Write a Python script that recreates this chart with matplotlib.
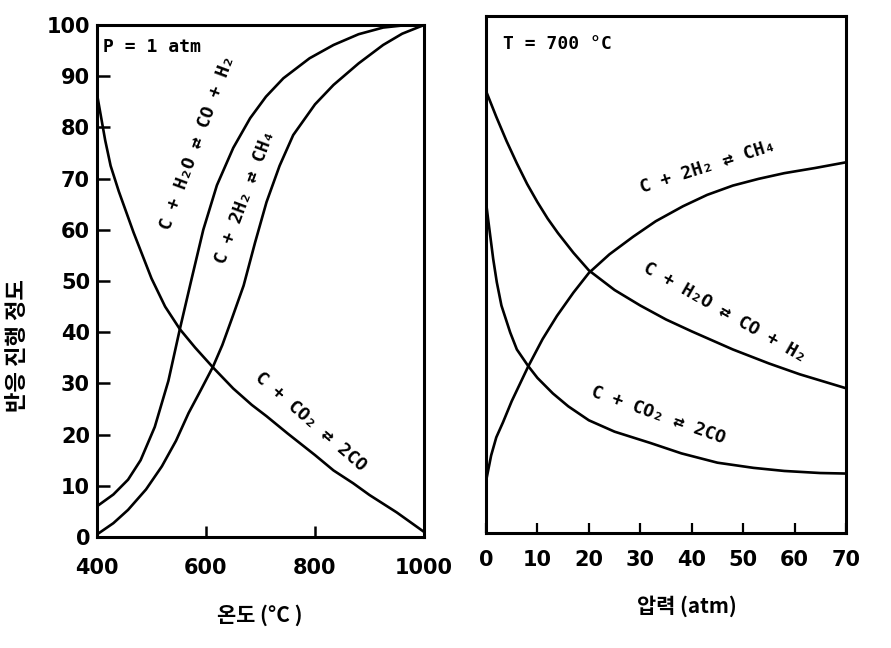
import matplotlib
matplotlib.use("Agg")
import matplotlib.pyplot as plt

# ---------------- data ----------------
# Left panel: temperature (°C) at P = 1 atm
co2_T = [400, 405, 415, 425, 440, 467, 500, 525, 552, 580, 613, 650, 684, 711, 750, 800, 834, 870, 900, 950, 1000]
co2_y = [86.5, 83.5, 77.5, 72.5, 67.5, 59.5, 50.5, 45, 40.6, 37, 33.1, 29, 25.8, 23.6, 20.2, 16, 13, 10.5, 8.2, 4.8, 1]

h2o_T = [400, 430, 457, 480, 506, 531, 552, 572, 595, 620, 650, 681, 710, 742, 790, 834, 880, 925, 960, 1000]
h2o_y = [6, 8.3, 11.2, 15, 21.5, 30.5, 40.6, 49.7, 60, 68.7, 76, 81.8, 86, 89.6, 93.5, 96.1, 98.2, 99.5, 99.9, 100]

ch4_T = [400, 430, 457, 490, 519, 545, 568, 590, 613, 630, 647, 669, 690, 711, 735, 760, 800, 834, 880, 925, 960, 1000]
ch4_y = [0.5, 2.7, 5.3, 9.3, 13.8, 18.8, 24.2, 28.6, 33.3, 37.5, 42.5, 49.1, 57.5, 65.4, 72.5, 78.5, 84.5, 88.3, 92.5, 96.1, 98.3, 100]

# Right panel: pressure (atm) at T = 700 °C
h2o_P = [0, 2, 4, 6, 8, 10, 12, 14, 17, 20, 25, 30, 35, 40, 48, 55, 61, 70]
h2o_Py = [85.5, 80.5, 75.8, 71.5, 67.5, 64, 60.8, 58, 54.2, 50.8, 47, 44, 41.3, 39, 35.5, 32.8, 30.7, 28]

ch4_P = [0, 1, 2, 3.3, 5, 8.2, 11, 13.8, 17, 20, 24, 28.6, 33, 38.3, 43, 48, 53, 58, 64, 70]
ch4_Py = [10, 15, 18.5, 21.4, 25.5, 32.2, 37.5, 42, 46.5, 50.3, 53.9, 57.3, 60.3, 63.2, 65.4, 67.2, 68.5, 69.6, 70.6, 71.7]

co2_P = [0, 0.5, 1.4, 2.1, 3, 4.7, 6, 8.2, 10, 13, 16, 20, 25, 32, 38, 45, 52, 58, 65, 70]
co2_Py = [64, 60, 53, 48.5, 44, 38.8, 35.5, 32.3, 30, 27, 24.5, 21.8, 19.6, 17.4, 15.4, 13.6, 12.6, 12, 11.6, 11.5]

left_xticks = [400, 600, 800, 1000]
left_yticks = [0, 10, 20, 30, 40, 50, 60, 70, 80, 90, 100]
right_xticks = [0, 10, 20, 30, 40, 50, 60, 70]

lbl_h2o = "C + H\u2082O \u21c4 CO + H\u2082"
lbl_ch4 = "C + 2H\u2082 \u21c4 CH\u2084"
lbl_co2 = "C + CO\u2082 \u21c4 2CO"

# ---------------- style ----------------
plt.rcParams['font.family'] = ['DejaVu Sans', 'Noto Sans CJK KR']
KR = ['Noto Sans CJK KR', 'DejaVu Sans']
MONO = ['DejaVu Sans Mono', 'DejaVu Sans']
LW = 1.9
SPW = 2.2

fig = plt.figure(figsize=(8.91, 6.48), dpi=100)
axL = fig.add_axes([97/891, 1-537/648, 327/891, 512/648])
axR = fig.add_axes([486/891, 1-533/648, 360/891, 517/648])

for ax in (axL, axR):
    for s in ax.spines.values():
        s.set_linewidth(SPW)
        s.set_color('black')
    ax.set_ylim(0, 100)

# Left panel
axL.plot(co2_T, co2_y, color='black', lw=LW)
axL.plot(h2o_T, h2o_y, color='black', lw=LW)
axL.plot(ch4_T, ch4_y, color='black', lw=LW)
axL.set_xlim(400, 1000)
axL.set_xticks(left_xticks)
axL.set_yticks(left_yticks)
axL.tick_params(axis='x', direction='in', length=8, width=1.8, pad=15,
                labelsize=15)
axL.tick_params(axis='y', direction='in', length=9, width=1.8, pad=5,
                labelsize=15)
for t in axL.get_xticklabels() + axL.get_yticklabels():
    t.set_fontweight('bold')

axL.text(411, 95.7, "P = 1 atm", family=MONO, weight='bold', fontsize=13,
         ha='left', va='center')
axL.text(585, 77, lbl_h2o, family=MONO, weight='bold', fontsize=13,
         rotation=69.6, ha='center', va='center', rotation_mode='anchor')
axL.text(672, 66.4, lbl_ch4, family=MONO, weight='bold', fontsize=13,
         rotation=69.4, ha='center', va='center', rotation_mode='anchor')
axL.text(793, 22.6, lbl_co2, family=MONO, weight='bold', fontsize=13,
         rotation=-41, ha='center', va='center', rotation_mode='anchor')

axL.set_xlabel("온도 (°C )", family=KR, weight='bold', fontsize=15, va='center')
axL.xaxis.set_label_coords(0.498, -0.152)
axL.set_ylabel("반응 진행 정도", family=KR, weight='bold', fontsize=16, va='center')
axL.yaxis.set_label_coords(-0.242, 0.375)

# Right panel
axR.plot(h2o_P, h2o_Py, color='black', lw=LW)
axR.plot(ch4_P, ch4_Py, color='black', lw=LW)
axR.plot(co2_P, co2_Py, color='black', lw=LW)
axR.set_xlim(0, 70)
axR.set_xticks(right_xticks)
axR.set_yticks([])
axR.tick_params(axis='x', direction='in', length=7, width=1.6, pad=12,
                labelsize=15)
for t in axR.get_xticklabels():
    t.set_fontweight('bold')

axR.text(3.3, 94.6, "T = 700 °C", family=MONO, weight='bold', fontsize=13,
         ha='left', va='center')
axR.text(43.2, 70.9, lbl_ch4, family=MONO, weight='bold', fontsize=13,
         rotation=17.8, ha='center', va='center', rotation_mode='anchor')
axR.text(46.5, 42.7, lbl_h2o, family=MONO, weight='bold', fontsize=13,
         rotation=-29.7, ha='center', va='center', rotation_mode='anchor')
axR.text(33.5, 22.9, lbl_co2, family=MONO, weight='bold', fontsize=13,
         rotation=-19.7, ha='center', va='center', rotation_mode='anchor')

axR.set_xlabel("압력 (atm)", family=KR, weight='bold', fontsize=15, va='center')
axR.xaxis.set_label_coords(0.558, -0.141)

fig.savefig("out.png", dpi=100)
